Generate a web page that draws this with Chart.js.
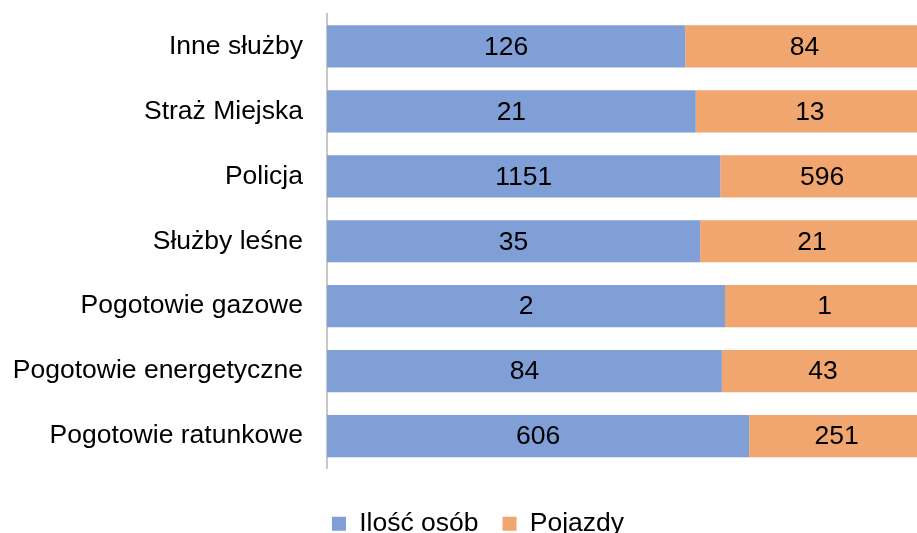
<!DOCTYPE html>
<html>
<head>
<meta charset="utf-8">
<script src="https://cdn.jsdelivr.net/npm/chart.js@4.4.1/dist/chart.umd.min.js"></script>
<style>
  body { margin: 0; background: #fff; overflow: hidden; }
  #wrap { width: 917px; height: 533px; overflow: hidden; }
</style>
</head>
<body>
<div id="wrap"><canvas id="wykres" width="956" height="547"></canvas></div>
<script>
// dane z wykresu
const kategorie = ['Inne służby', 'Straż Miejska', 'Policja', 'Służby leśne', 'Pogotowie gazowe', 'Pogotowie energetyczne', 'Pogotowie ratunkowe'];
const osoby = [126, 21, 1151, 35, 2, 84, 606];
const pojazdy = [84, 13, 596, 21, 1, 43, 251];

// udział procentowy (wykres 100%)
const osobyUdzial = osoby.map((v, i) => v / (v + pojazdy[i]));
const pojazdyUdzial = pojazdy.map((v, i) => v / (osoby[i] + v));

const FONT = 'Arial, "Liberation Sans", sans-serif';
const ROZMIAR = 26.5;

// etykiety z wartościami na słupkach
const etykiety = {
    id: 'etykiety',
    afterDatasetsDraw(chart) {
        const ctx = chart.ctx;
        ctx.save();
        ctx.font = ROZMIAR + 'px ' + FONT;
        ctx.fillStyle = '#000';
        ctx.textAlign = 'center';
        ctx.textBaseline = 'middle';
        chart.data.datasets.forEach((ds, d) => {
            chart.getDatasetMeta(d).data.forEach((el, i) => {
                const p = el.getCenterPoint();
                ctx.fillText(String(ds.raw[i]), p.x, p.y + 1);
            });
        });
        ctx.restore();
    }
};

new Chart(document.getElementById('wykres'), {
    type: 'bar',
    data: {
        labels: kategorie,
        datasets: [
            { label: 'Ilość osób', data: osobyUdzial, raw: osoby, backgroundColor: '#7f9fd6' },
            { label: 'Pojazdy', data: pojazdyUdzial, raw: pojazdy, backgroundColor: '#f1a56f' }
        ]
    },
    options: {
        indexAxis: 'y',
        responsive: false,
        animation: false,
        barPercentage: 0.65,
        categoryPercentage: 1,
        layout: { padding: { top: 14, right: 0, left: 0, bottom: 0 } },
        scales: {
            x: {
                stacked: true, min: 0, max: 1,
                ticks: { display: false },
                grid: { display: false },
                border: { display: false },
                afterFit(s) { s.height = 18; }
            },
            y: {
                stacked: true,
                grid: { display: false, drawTicks: false },
                border: { display: true, color: '#c8c8c8', width: 2 },
                ticks: { color: '#000', padding: 24, font: { family: FONT, size: ROZMIAR } },
                afterFit(s) { s.width = 327; s.paddingTop = 0; s.paddingBottom = 0; }
            },
            // pusta oś po prawej - tylko margines
            prawa: {
                axis: 'y', position: 'right',
                ticks: { display: false },
                grid: { display: false },
                border: { display: false },
                afterFit(s) { s.width = 32; s.paddingTop = 0; s.paddingBottom = 0; }
            }
        },
        plugins: {
            legend: {
                position: 'bottom',
                labels: { color: '#000', boxWidth: 14, boxHeight: 14, padding: 24, font: { family: FONT, size: ROZMIAR } }
            },
            tooltip: { enabled: false }
        }
    },
    plugins: [etykiety]
});
</script>
</body>
</html>
